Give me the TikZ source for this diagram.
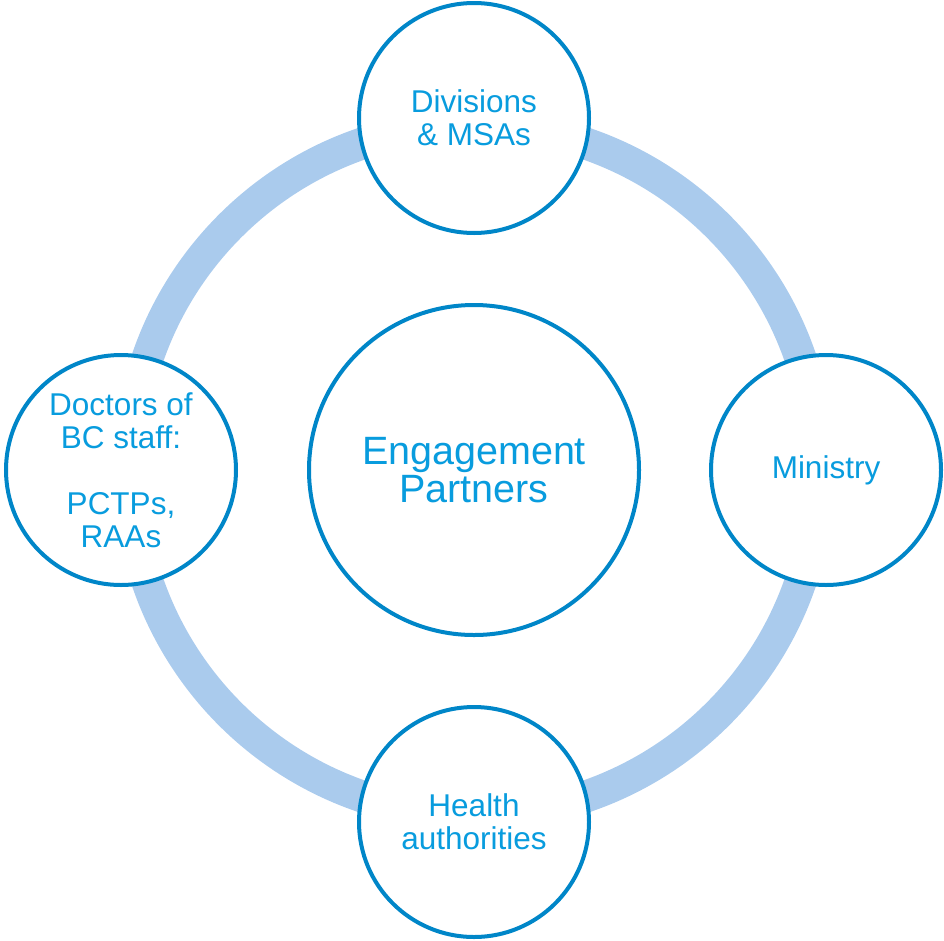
\documentclass[tikz,border=0pt]{standalone}
\usepackage{fontspec}
\setmainfont{Liberation Sans}
\definecolor{ringblue}{RGB}{170,203,237}
\definecolor{edgeblue}{RGB}{0,134,200}
\definecolor{textblue}{RGB}{8,156,222}
\begin{document}
\begin{tikzpicture}[x=1pt,y=-1pt,
  sat/.style={circle,draw=edgeblue,line width=4pt,fill=white,minimum size=230pt,inner sep=0pt,
    text=textblue,align=center,font=\fontsize{31.5}{33}\selectfont},
  hub/.style={circle,draw=edgeblue,line width=4pt,fill=white,minimum size=330pt,inner sep=0pt,
    text=textblue,align=center,font=\fontsize{39.5}{38}\selectfont}]
\useasboundingbox (0,0) rectangle (944,940);
\coordinate (c) at (474,470);
\draw[ringblue,line width=32pt] (c) circle[radius=345];
\node[hub] (hub) at (c) {Engagement\\Partners};
\node[sat] (top) at (474,118) {Divisions\\\& MSAs};
\node[sat] (right) at (826,470) {Ministry};
\node[sat] (bottom) at (474,822) {Health\\authorities};
\node[sat] (left) at (121,470) {Doctors of\\BC staff:\\[33pt]PCTPs,\\RAAs};
\end{tikzpicture}
\end{document}
